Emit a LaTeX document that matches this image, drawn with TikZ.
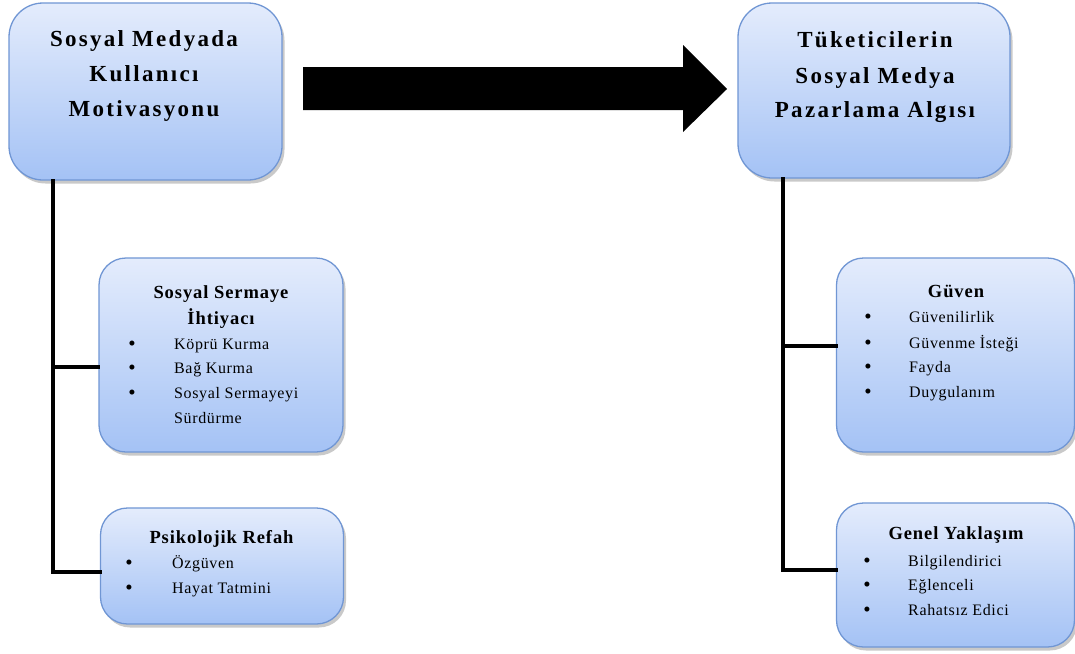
\documentclass[tikz,border=0pt]{standalone}
\usepackage{fontspec}
\setmainfont{Liberation Serif}
\usetikzlibrary{shadows}
\definecolor{boxtop}{RGB}{228,236,252}
\definecolor{boxbot}{RGB}{164,194,245}
\definecolor{boxline}{RGB}{112,150,212}
\tikzset{
  bluebox/.style={draw=boxline, line width=1.3pt, top color=boxtop, bottom color=boxbot,
    drop shadow={shadow xshift=2.5pt, shadow yshift=-3.5pt, opacity=0.35, fill=black!60},
    inner sep=0pt},
  bigbox/.style={bluebox, rounded corners=34pt},
  subbox/.style={bluebox, rounded corners=27pt},
  conn/.style={line width=3.6pt, line cap=rect},
  bigtxt/.style={anchor=base, inner sep=0pt, font=\fontsize{23}{34}\selectfont\bfseries\addfontfeatures{LetterSpace=10}},
  subtxt/.style={anchor=base, inner sep=0pt, font=\fontsize{18.5}{25}\selectfont\bfseries\addfontfeatures{LetterSpace=5}},
  itemtxt/.style={anchor=base west, inner sep=0pt, font=\fontsize{16}{24}\selectfont\addfontfeatures{LetterSpace=4}},
  bul/.style={anchor=base, inner sep=0pt, font=\fontsize{21}{24}\selectfont}
}
\begin{document}
\begin{tikzpicture}[x=1pt,y=-1pt]
\useasboundingbox[fill=white] (0,0) rectangle (1075,653);
% boxes
\node[bigbox, minimum width=273pt, minimum height=177pt] (b1) at (145.5,91.5) {};
\node[bigbox, minimum width=272pt, minimum height=175pt] (b2) at (874,90.5) {};
\node[subbox, minimum width=244pt, minimum height=194pt] (b3) at (221,355) {};
\node[subbox, minimum width=243pt, minimum height=116pt] (b4) at (222,566) {};
\node[subbox, minimum width=238pt, minimum height=194pt] (b5) at (955.5,355) {};
\node[subbox, minimum width=238pt, minimum height=144pt] (b6) at (955.5,575) {};
% big arrow
\fill (303,67) -- (683,67) -- (683,45) -- (727,89) -- (683,132) -- (683,110) -- (303,110) -- cycle;
% connectors
\coordinate (L) at (53,0);
\coordinate (R) at (783,0);
\draw[conn] (b1.south -| L) |- (b4.west |- 0,572);
\draw[conn] (L |- 0,367) -- (b3.west |- 0,367);
\draw[conn] (b2.south -| R) |- (b6.west |- 0,570);
\draw[conn] (R |- 0,346) -- (b5.west |- 0,346);
% main titles
\node[bigtxt] (t11) at (144,46) {Sosyal Medyada};
\node[bigtxt] (t12) at (144,81) {Kullanıcı};
\node[bigtxt] (t13) at (144,116) {Motivasyonu};
\node[bigtxt] (t21) at (875,47) {Tüketicilerin};
\node[bigtxt] (t22) at (875,83) {Sosyal Medya};
\node[bigtxt] (t23) at (875,117) {Pazarlama Algısı};
% box 3
\node[subtxt] (s31) at (221,298) {Sosyal Sermaye};
\node[subtxt] (s32) at (221,324) {İhtiyacı};
\node[bul] (p31) at (132,350) {•}; \node[itemtxt] (i31) at (174,349) {Köprü Kurma};
\node[bul] (p32) at (132,374) {•}; \node[itemtxt] (i32) at (174,373) {Bağ Kurma};
\node[bul] (p33) at (132,399) {•}; \node[itemtxt] (i33) at (174,398) {Sosyal Sermayeyi};
\node[itemtxt] (i34) at (174,423) {Sürdürme};
% box 4
\node[subtxt] (s41) at (221.5,543) {Psikolojik Refah};
\node[bul] (p41) at (129,569) {•}; \node[itemtxt] (i41) at (172,568) {Özgüven};
\node[bul] (p42) at (129,594) {•}; \node[itemtxt] (i42) at (172,593) {Hayat Tatmini};
% box 5
\node[subtxt] (s51) at (956,297) {Güven};
\node[bul] (p51) at (868,323) {•}; \node[itemtxt] (i51) at (909,322) {Güvenilirlik};
\node[bul] (p52) at (868,349) {•}; \node[itemtxt] (i52) at (909,348) {Güvenme İsteği};
\node[bul] (p53) at (868,373) {•}; \node[itemtxt] (i53) at (909,372) {Fayda};
\node[bul] (p54) at (868,398) {•}; \node[itemtxt] (i54) at (909,397) {Duygulanım};
% box 6
\node[subtxt] (s61) at (956,539) {Genel Yaklaşım};
\node[bul] (p61) at (867,567) {•}; \node[itemtxt] (i61) at (908,566) {Bilgilendirici};
\node[bul] (p62) at (867,591) {•}; \node[itemtxt] (i62) at (908,590) {Eğlenceli};
\node[bul] (p63) at (867,616) {•}; \node[itemtxt] (i63) at (908,615) {Rahatsız Edici};
\end{tikzpicture}
\end{document}
